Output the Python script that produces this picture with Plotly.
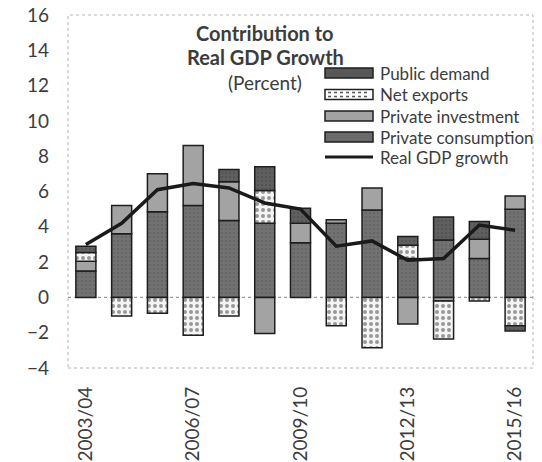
import plotly.graph_objects as go

# Fiscal years and contributions to real GDP growth (percentage points)
years = ["2003/04", "2004/05", "2005/06", "2006/07", "2007/08", "2008/09", "2009/10",
         "2010/11", "2011/12", "2012/13", "2013/14", "2014/15", "2015/16"]
private_consumption = [1.5, 3.6, 4.85, 5.2, 4.35, 4.2, 3.1, 4.2, 4.95, 2.2, 3.25, 2.2, 5.0]
private_investment = [0.55, 1.6, 2.15, 3.4, 2.2, -2.05, 1.1, 0.2, 1.25, -1.5, -0.2, 1.1, 0.75]
net_exports = [0.5, -1.05, -0.9, -2.15, -1.05, 1.85, None, -1.6, -2.85, 0.75, -2.15, -0.2, -1.6]
public_demand = [0.35, None, None, None, 0.7, 1.35, 0.85, None, None, 0.5, 1.3, 1.0, -0.3]
real_gdp_growth = [3.0, 4.2, 6.1, 6.45, 6.2, 5.35, 5.0, 2.9, 3.2, 2.1, 2.2, 4.1, 3.8]
tick_labels = ["2003/04", "2006/07", "2009/10", "2012/13", "2015/16"]

FONT = "Lato"
TEXT = "#3c3c3c"
EDGE = "#1e1e1e"
OUTLINE = dict(color=EDGE, width=1.5)
Y_MIN, Y_MAX = -4, 16

W, H = 542, 462
M = dict(l=68, r=9, t=15, b=94)
PW, PH = W - M["l"] - M["r"], H - M["t"] - M["b"]


def px_x(px):
    """Horizontal pixel position -> paper coordinate."""
    return (px - M["l"]) / PW


def px_y(py):
    """Vertical pixel position (from the top) -> paper coordinate."""
    return (H - M["b"] - py) / PH


series = [
    ("Private consumption", private_consumption, "#6b6b6b",
     dict(shape=".", fgcolor="#5a5a5a", bgcolor="#727272", size=4, solidity=0.3)),
    ("Private investment", private_investment, "#a3a3a3", None),
    ("Net exports", net_exports, "#ffffff",
     dict(shape=".", fgcolor="#3a3a3a", bgcolor="#f4f4f4", size=6, solidity=0.35)),
    ("Public demand", public_demand, "#585858",
     dict(shape=".", fgcolor="#484848", bgcolor="#606060", size=4, solidity=0.3)),
]

fig = go.Figure()

# stacked from the bottom: consumption, investment, net exports, public demand
for name, values, color, pattern in series:
    marker = dict(color=color, line=OUTLINE)
    if pattern:
        marker["pattern"] = pattern
    fig.add_trace(go.Bar(x=years, y=values, name=name, marker=marker, showlegend=False))

fig.add_trace(go.Scatter(
    x=years, y=real_gdp_growth, name="Real GDP growth", showlegend=False,
    mode="lines", line=dict(color="#1a1a1a", width=3.5),
))

# frame and zero line
shapes = [
    dict(type="rect", xref="paper", yref="paper", x0=0, x1=1, y0=0, y1=1,
         line=dict(color="#b5b5b5", width=1, dash="dot"), layer="below"),
    dict(type="line", xref="paper", yref="y", x0=0, x1=1, y0=0, y1=0,
         line=dict(color="#9a9a9a", width=1.2, dash="dot"), layer="below"),
]

# legend block, drawn as shapes + text (top entry = top of the stack)
annotations = []
sw_x0, sw_x1, txt_x = 325, 373, 378
row_y = [73, 94.5, 116, 137, 157]
for (name, _, color, _p), yc in zip(reversed(series), row_y):
    shapes.append(dict(type="rect", xref="paper", yref="paper",
                       x0=px_x(sw_x0), x1=px_x(sw_x1), y0=px_y(yc + 5), y1=px_y(yc - 5),
                       fillcolor=color, line=dict(color=EDGE, width=1.5)))
    if name == "Net exports":
        for dy in (-2, 2):
            shapes.append(dict(type="line", xref="paper", yref="paper",
                               x0=px_x(sw_x0 + 3), x1=px_x(sw_x1 - 3),
                               y0=px_y(yc + dy), y1=px_y(yc + dy),
                               line=dict(color="#555555", width=1.5, dash="dot")))
    annotations.append(dict(text=name, x=px_x(txt_x), y=px_y(yc), xref="paper", yref="paper",
                            xanchor="left", yanchor="middle", showarrow=False,
                            font=dict(family=FONT, size=17, color=TEXT)))
shapes.append(dict(type="line", xref="paper", yref="paper",
                   x0=px_x(sw_x0), x1=px_x(sw_x1), y0=px_y(row_y[4]), y1=px_y(row_y[4]),
                   line=dict(color="#1a1a1a", width=3)))
annotations.append(dict(text="Real GDP growth", x=px_x(txt_x), y=px_y(row_y[4]),
                        xref="paper", yref="paper", xanchor="left", yanchor="middle",
                        showarrow=False, font=dict(family=FONT, size=17, color=TEXT)))

# title block
for text, yc, size in [("<b>Contribution to</b>", 33, 20), ("<b>Real GDP Growth</b>", 57, 20),
                       ("(Percent)", 82, 19)]:
    annotations.append(dict(text=text, x=px_x(265), y=px_y(yc), xref="paper", yref="paper",
                            xanchor="center", yanchor="middle", showarrow=False,
                            font=dict(family=FONT, size=size, color=TEXT)))

fig.update_layout(
    width=W, height=H,
    margin=dict(**M, autoexpand=False),
    paper_bgcolor="white", plot_bgcolor="white",
    barmode="relative", bargap=0.44,
    font=dict(family=FONT, color=TEXT),
    showlegend=False,
    xaxis=dict(
        type="category", range=[-0.5, 12.5],
        tickvals=tick_labels, ticktext=tick_labels, tickangle=-90,
        tickfont=dict(family=FONT, size=19, color=TEXT),
        showgrid=False, showline=False, zeroline=False, ticks="",
        ticklabelstandoff=14, automargin=False,
    ),
    yaxis=dict(
        range=[Y_MIN, Y_MAX], dtick=2,
        tickfont=dict(family=FONT, size=19, color=TEXT),
        showgrid=False, showline=False, zeroline=False, ticks="",
        ticklabelstandoff=18, automargin=False,
    ),
    shapes=shapes,
    annotations=annotations,
)

fig.write_html("out.html")
